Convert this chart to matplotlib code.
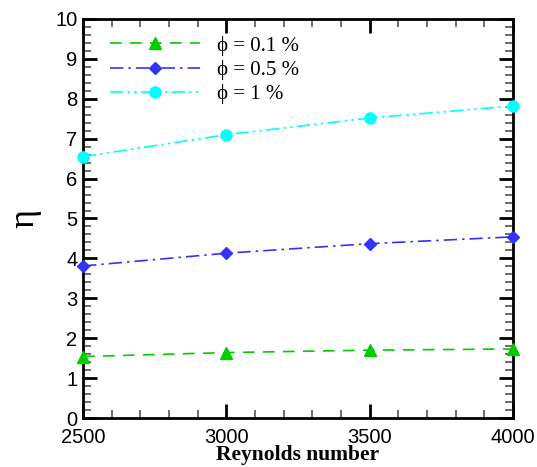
import matplotlib
matplotlib.use('Agg')
import matplotlib.pyplot as plt
from matplotlib.ticker import MultipleLocator

reynolds = [2500, 3000, 3500, 4000]
eta_01 = [1.54, 1.64, 1.70, 1.73]
eta_05 = [3.81, 4.13, 4.37, 4.54]
eta_1 = [6.55, 7.10, 7.52, 7.82]
labels = ['\u03d5 = 0.1 %', '\u03d5 = 0.5 %', '\u03d5 = 1 %']

fig = plt.figure(figsize=(5.37, 4.67), dpi=100)
ax = fig.add_axes([83 / 537, 1 - 418 / 467, 430 / 537, 399 / 467])

ax.plot(reynolds, eta_01, color='#00cc00', linestyle=(0, (7, 5)), lw=1.2,
        marker='^', markersize=8.5, label=labels[0], clip_on=False, zorder=3)
ax.plot(reynolds, eta_05, color='#3333ff', linestyle=(0, (8, 3, 1.5, 3)), lw=1.2,
        marker='D', markersize=6, label=labels[1], clip_on=False, zorder=3)
ax.plot(reynolds, eta_1, color='#00ffff', linestyle=(0, (8, 2.5, 1.5, 2.5, 1.5, 2.5)), lw=1.2,
        marker='o', markersize=8, label=labels[2], clip_on=False, zorder=3)

ax.set_xlim(2500, 4000)
ax.set_ylim(0, 10)
ax.xaxis.set_major_locator(MultipleLocator(500))
ax.xaxis.set_minor_locator(MultipleLocator(100))
ax.yaxis.set_major_locator(MultipleLocator(1))
ax.yaxis.set_minor_locator(MultipleLocator(0.2))
ax.tick_params(which='both', direction='in', top=True, right=True)
ax.tick_params(which='major', length=10, width=2)
ax.tick_params(which='minor', length=6, width=1.2, color='#555555')
ax.tick_params(axis='x', which='major', pad=7.5)
ax.tick_params(axis='y', which='major', pad=4)
for lab in ax.get_xticklabels() + ax.get_yticklabels():
    lab.set_fontfamily('Liberation Sans')
    lab.set_fontsize(14.5)
for sp in ax.spines.values():
    sp.set_linewidth(2)

ax.set_xlabel('Reynolds number', fontfamily='Liberation Serif', fontweight='bold',
              fontsize=15.5, labelpad=-1.5)
ax.set_ylabel('\u03b7', fontfamily='Liberation Serif', fontsize=26, labelpad=10)

leg = ax.legend(loc='upper left', bbox_to_anchor=(0.02, 1.005), frameon=False, numpoints=1,
                handlelength=4.3, labelspacing=0.2, handletextpad=0.8,
                prop={'family': 'Liberation Serif', 'size': 15})

fig.savefig('out.png', dpi=100)
